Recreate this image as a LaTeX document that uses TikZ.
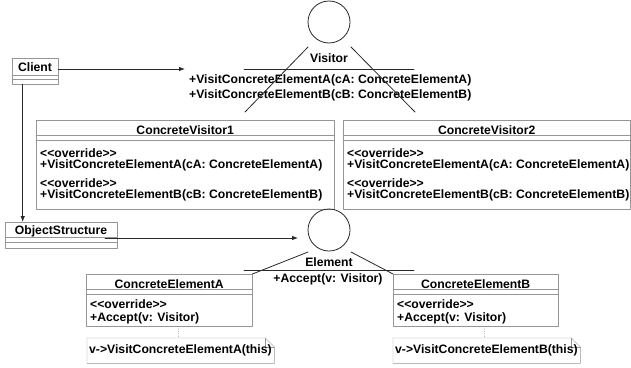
\documentclass[tikz,border=0pt]{standalone}
\usepackage{fontspec}
\setmainfont{Liberation Sans}[Ligatures=TeXOff]
\usetikzlibrary{arrows.meta}
\definecolor{boxgray}{RGB}{150,150,150}
\definecolor{linegray}{RGB}{40,40,40}
\newcommand{\stereo}[1]{<<#1>>}
\begin{document}
\begin{tikzpicture}[x=1pt,y=-1pt,>={Latex[length=6pt,width=4.5pt]}, font=\fontsize{12.2}{14}\selectfont\bfseries, line join=round, line cap=round]
	\tikzset{
		classbox/.style={draw=boxgray, anchor=north west, inner sep=0pt},
		divider/.style={draw=boxgray},
		link/.style={draw=linegray, line width=0.8pt},
		member/.style={anchor=west, inner sep=0pt},
		iface/.style={circle, draw=linegray, line width=0.8pt, minimum size=42pt, inner sep=0pt},
		notebox/.style={anchor=north west, inner sep=0pt, minimum width=187pt, minimum height=25pt}
	}
	\useasboundingbox (0,0) rectangle (631,367);
	% Visitor interface
	\node[iface] (visitor) at (329,22) {};
	\node (visitorname) at (329,58) {Visitor};
	\draw[link] (244,69) -- (414,69);
	\node[member] (vm1) at (189,80) {+VisitConcreteElementA(cA: ConcreteElementA)};
	\node[member] (vm2) at (189,95) {+VisitConcreteElementB(cB: ConcreteElementB)};
	% Client and ObjectStructure
	\node[classbox, minimum width=46pt, minimum height=26pt] (client) at (12,58) {};
	\node (clientname) at (35,67) {Client};
	\node[classbox, minimum width=112pt, minimum height=26pt] (objs) at (5,222) {};
	\node (objsname) at (61,231) {ObjectStructure};
	\foreach \n/\a/\b in {client/17/21, objs/15/20}{
		\draw[divider] ([yshift=-\a pt]\n.north west) -- ([yshift=-\a pt]\n.north east);
		\draw[divider] ([yshift=-\b pt]\n.north west) -- ([yshift=-\b pt]\n.north east);
	}
	% concrete visitors
	\node[classbox, minimum width=298pt, minimum height=89pt] (cv1) at (36,120) {};
	\node[classbox, minimum width=287pt, minimum height=89pt] (cv2) at (343,120) {};
	\foreach \n/\t in {cv1/ConcreteVisitor1, cv2/ConcreteVisitor2}{
		\node[below=2pt] (\n name) at (\n.north) {\t};
		\draw[divider] ([yshift=-15pt]\n.north west) -- ([yshift=-15pt]\n.north east);
		\draw[divider] ([yshift=-20pt]\n.north west) -- ([yshift=-20pt]\n.north east);
		\node[member] (\n o1) at ([xshift=4pt,yshift=-33pt]\n.north west) {\stereo{override}};
		\node[member] (\n m1) at ([xshift=4pt,yshift=-45pt]\n.north west) {+VisitConcreteElementA(cA: ConcreteElementA)};
		\node[member] (\n o2) at ([xshift=4pt,yshift=-63pt]\n.north west) {\stereo{override}};
		\node[member] (\n m2) at ([xshift=4pt,yshift=-75pt]\n.north west) {+VisitConcreteElementB(cB: ConcreteElementB)};
	}
	\coordinate (vl) at (308,47); \coordinate (vl') at (245,112);
	\coordinate (vr) at (351,47); \coordinate (vr') at (415,112);
	\draw[link] (vl) -- (vl');
	\draw[link] (vr) -- (vr');
	% Element interface
	\node[iface] (element) at (329,230) {};
	\node (elementname) at (329,262) {Element};
	\draw[link] (244,270) -- (414,270);
	\node (em1) at (328,279) {+Accept(v: Visitor)};
	% concrete elements
	\node[classbox, minimum width=166pt, minimum height=52pt] (cea) at (86,274) {};
	\node[classbox, minimum width=165pt, minimum height=52pt] (ceb) at (393,274) {};
	\node[notebox] (notea) at (87,338) {};
	\node[notebox] (noteb) at (393,338) {};
	\foreach \n/\t/\m in {cea/ConcreteElementA/notea, ceb/ConcreteElementB/noteb}{
		\node[below=2pt] (\n name) at (\n.north) {\t};
		\draw[divider] ([yshift=-15pt]\n.north west) -- ([yshift=-15pt]\n.north east);
		\draw[divider] ([yshift=-20pt]\n.north west) -- ([yshift=-20pt]\n.north east);
		\node[member] (\n o1) at ([xshift=4pt,yshift=-30pt]\n.north west) {\stereo{override}};
		\node[member] (\n m1) at ([xshift=4pt,yshift=-44pt]\n.north west) {+Accept(v: Visitor)};
		\draw[divider] (\m.north west) -- ([xshift=-9pt]\m.north east) -- ([yshift=-9pt]\m.north east) -- (\m.south east) -- (\m.south west) -- cycle;
		\draw[divider] ([xshift=-9pt]\m.north east) -- ([xshift=-9pt,yshift=-9pt]\m.north east) -- ([yshift=-9pt]\m.north east);
		\draw[divider, dotted] ([xshift=-3pt]\m.north |- \n.south) -- ([xshift=-3pt]\m.north);
	}
	\node[member] (nta) at ([xshift=2pt]notea.west) {v->VisitConcreteElementA(this)};
	\node[member] (ntb) at ([xshift=2pt]noteb.west) {v->VisitConcreteElementB(this)};
	\coordinate (el) at (308,252); \coordinate (er) at (351,252);
	\draw[link] (el) -- (cea.north east);
	\draw[link] (er) -- (ceb.north west);
	% associations
	\coordinate (vin) at (185,69);
	\draw[link,->] (client.east |- vin) -- (vin);
	\draw[link,->] ([xshift=-12.5pt]client.south) -- ([xshift=-12.5pt]client.south |- objs.north);
	\coordinate (ein) at (298,238);
	\draw[link,->] (105,238) -- (ein);
\end{tikzpicture}
\end{document}
